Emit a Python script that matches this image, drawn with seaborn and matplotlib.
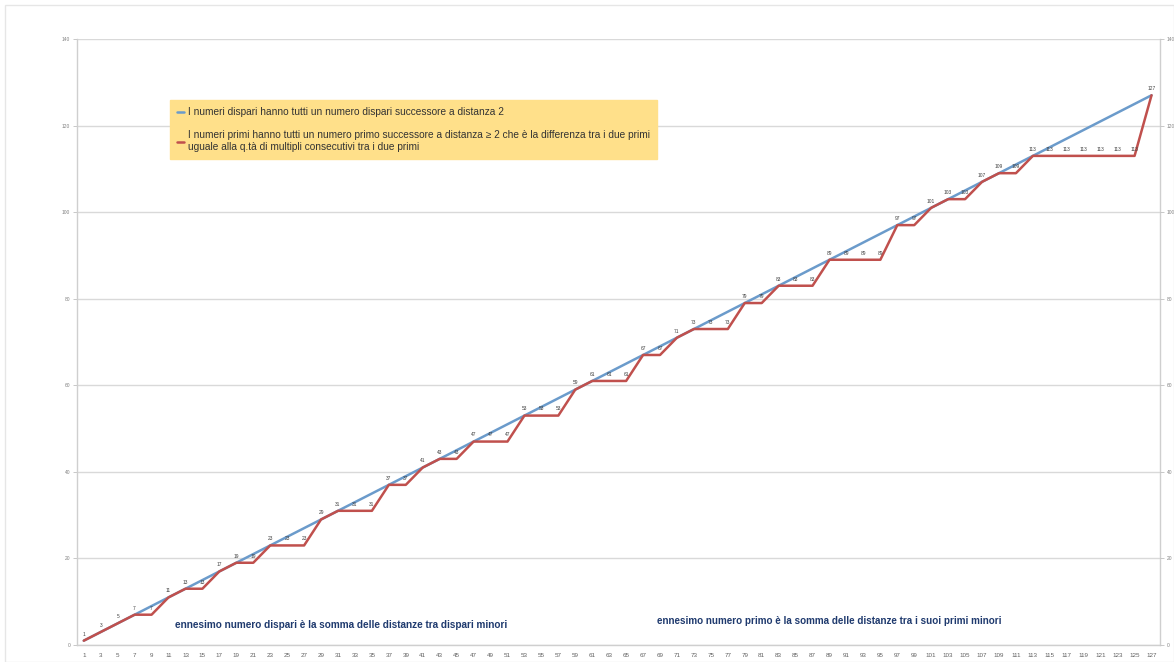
import matplotlib
matplotlib.use("Agg")
import matplotlib.pyplot as plt
import seaborn as sns
import pandas as pd
from matplotlib.patches import Rectangle

# ---- data ----
odd_numbers = [1, 3, 5, 7, 9, 11, 13, 15, 17, 19, 21, 23, 25, 27, 29, 31,
               33, 35, 37, 39, 41, 43, 45, 47, 49, 51, 53, 55, 57, 59, 61, 63,
               65, 67, 69, 71, 73, 75, 77, 79, 81, 83, 85, 87, 89, 91, 93, 95,
               97, 99, 101, 103, 105, 107, 109, 111, 113, 115, 117, 119, 121, 123, 125, 127]
prime_values = [1, 3, 5, 7, 7, 11, 13, 13, 17, 19, 19, 23, 23, 23, 29, 31,
                31, 31, 37, 37, 41, 43, 43, 47, 47, 47, 53, 53, 53, 59, 61, 61,
                61, 67, 67, 71, 73, 73, 73, 79, 79, 83, 83, 83, 89, 89, 89, 89,
                97, 97, 101, 103, 103, 107, 109, 109, 113, 113, 113, 113, 113, 113, 113, 127]
y_ticks = [0, 20, 40, 60, 80, 100, 120, 140]

label_odd = "I numeri dispari hanno tutti un numero dispari successore a distanza 2"
label_prime = ("I numeri primi hanno tutti un numero primo successore a distanza \u2265 2 che \u00e8 la differenza tra i due primi\n"
               "uguale alla q.t\u00e0 di multipli consecutivi tra i due primi")
note_odd = "ennesimo numero dispari \u00e8 la somma delle distanze tra dispari minori"
note_prime = "ennesimo numero primo \u00e8 la somma delle distanze tra i suoi primi minori"

df = pd.DataFrame({"pos": list(range(len(odd_numbers))),
                   "dispari": odd_numbers, "primi": prime_values})

sns.set_theme(style="white")
plt.rcParams["font.family"] = ["Liberation Sans", "DejaVu Sans"]

fig = plt.figure(figsize=(11.74, 6.62), dpi=100)
ax = fig.add_axes([77/1174, 17/662, (1160-77)/1174, (645-39)/662])

blue = "#6B9BCB"
red = "#C0504D"
sns.lineplot(data=df, x="pos", y="dispari", ax=ax, color=blue, linewidth=1.8,
             label=label_odd, zorder=3)
sns.lineplot(data=df, x="pos", y="primi", ax=ax, color=red, linewidth=1.8,
             label=label_prime, zorder=4)

for i, v in enumerate(prime_values):
    ax.annotate(str(v), (i, v), xytext=(0, 3), textcoords="offset points",
                ha="center", va="bottom", fontsize=3.5, color="#404040", zorder=5)

ax.set_xlim(-0.4, len(odd_numbers) - 0.5)
ax.set_ylim(0, 140)
ax.set_yticks(y_ticks)
ax.set_yticklabels([str(t) for t in y_ticks], fontsize=3.5, color="#808080")
ax.set_xticks(range(len(odd_numbers)))
ax.set_xticklabels([str(v) for v in odd_numbers], fontsize=4.5, color="#606060")
ax.tick_params(axis="x", length=0, pad=6)
ax.tick_params(axis="y", length=3, width=0.6, color="#BFBFBF", left=True, pad=2)
ax.set_xlabel("")
ax.set_ylabel("")
ax.yaxis.grid(True, color="#D9D9D9", linewidth=1.0)
ax.set_axisbelow(True)
for s in ["left", "right", "bottom"]:
    ax.spines[s].set_color("#CFCFCF")
    ax.spines[s].set_linewidth(1.0)
ax.spines["top"].set_visible(False)

ax2 = ax.twinx()
ax2.set_ylim(0, 140)
ax2.set_yticks(y_ticks)
ax2.set_yticklabels([str(t) for t in y_ticks], fontsize=3.5, color="#808080")
ax2.tick_params(axis="y", length=3, width=0.6, color="#BFBFBF", right=True, pad=2)
for s in ax2.spines.values():
    s.set_visible(False)
ax2.grid(False)

leg = ax.legend(loc="upper left", bbox_to_anchor=((170-77)/1083, (645-100)/606),
                borderaxespad=0.0,
                fontsize=7.3, frameon=True, fancybox=False, handlelength=0.7,
                handletextpad=0.4, labelspacing=1.3, borderpad=0.7)
leg.get_frame().set_facecolor("#FFE08A")
leg.get_frame().set_edgecolor("#FFE08A")
leg.get_frame().set_alpha(1.0)
for t in leg.get_texts():
    t.set_color("#333333")

ax.text((175-77)/1083, (645-625)/606, note_odd, transform=ax.transAxes,
        fontsize=7.2, fontweight="bold", color="#1F3A6E", va="center", ha="left")
ax.text((657-77)/1083, (645-621)/606, note_prime, transform=ax.transAxes,
        fontsize=7.1, fontweight="bold", color="#1F3A6E", va="center", ha="left")

fig.patches.append(Rectangle((5/1174, 0), 1 - 5/1174, 1 - 5/662, transform=fig.transFigure,
                             fill=False, edgecolor="#E6E6E6", linewidth=1.0))

fig.savefig("out.png", dpi=100)
